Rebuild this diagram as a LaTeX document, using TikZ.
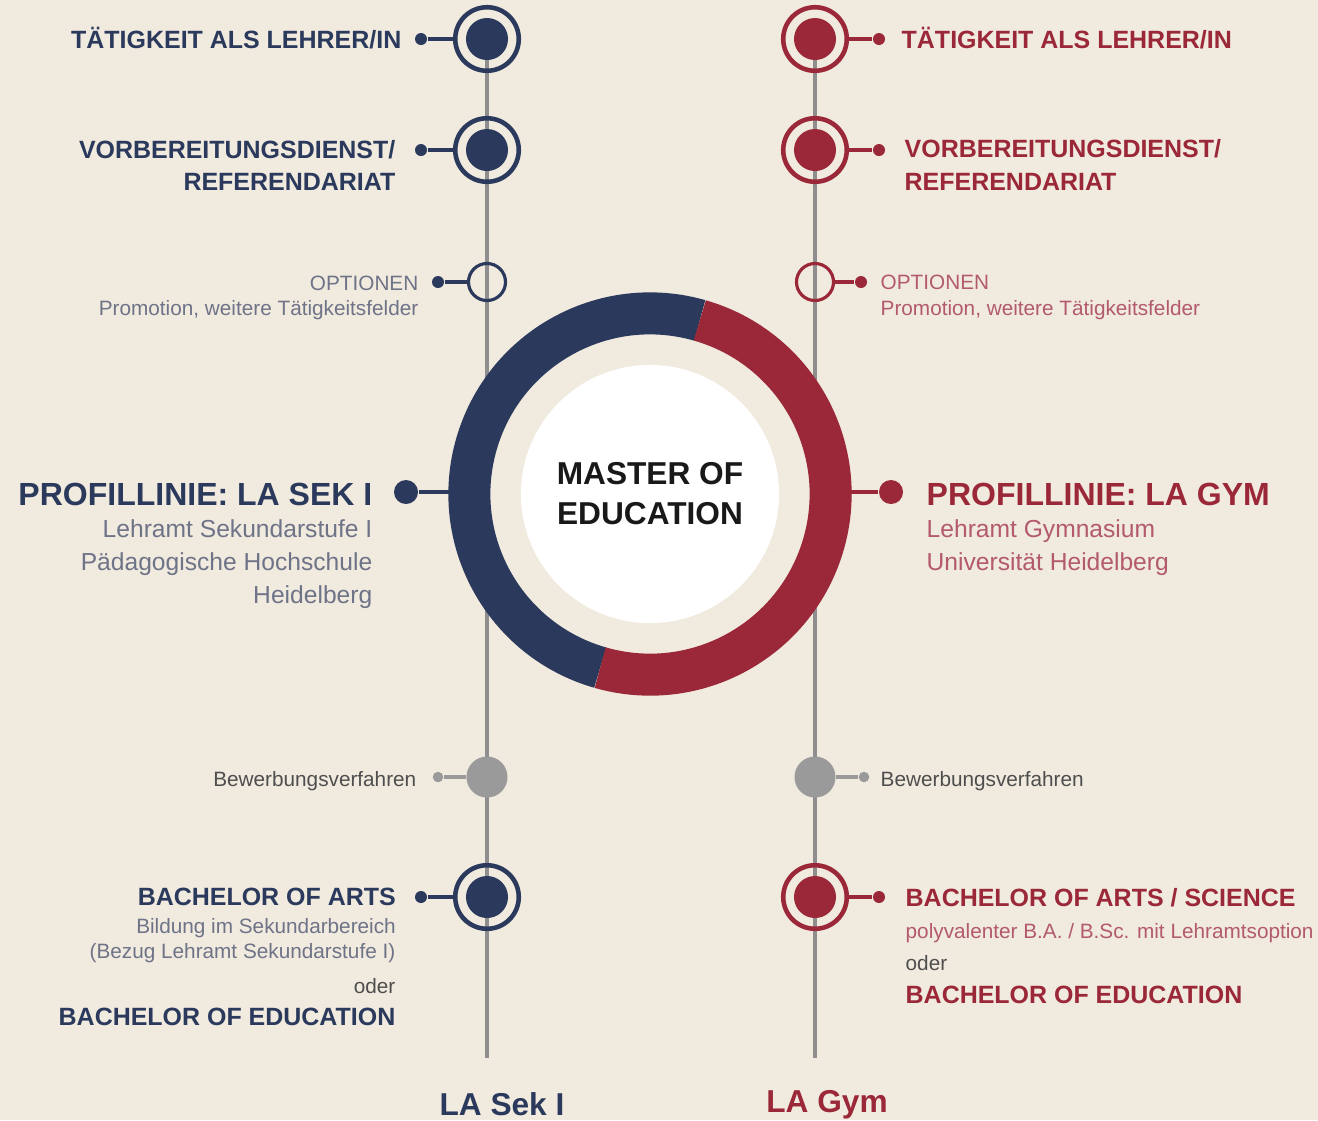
\documentclass[tikz,border=0pt]{standalone}
\usepackage{fontspec}
\setmainfont{Liberation Sans}
\definecolor{paper}{HTML}{F0EADF}
\definecolor{navy}{HTML}{2B3A5C}
\definecolor{crimson}{HTML}{9B2838}
\definecolor{navysoft}{HTML}{6E7387}
\definecolor{crimsonsoft}{HTML}{B35A6B}
\definecolor{linegray}{HTML}{8E8E8E}
\definecolor{dotgray}{HTML}{9A9A9A}
\definecolor{textgray}{HTML}{4E4E4E}
\tikzstyle{track} = [draw=linegray, line width=1.1pt]
\tikzstyle{station} = [circle, line width=1.3pt, minimum size=0.635cm, inner sep=0pt]
\tikzstyle{stationL} = [station, draw=navy, path picture={\fill[navy] (path picture bounding box.center) circle (0.21cm);}]
\tikzstyle{stationR} = [station, draw=crimson, path picture={\fill[crimson] (path picture bounding box.center) circle (0.21cm);}]
\tikzstyle{optring} = [circle, line width=0.9pt, minimum size=0.37cm, inner sep=0pt]
\tikzstyle{gate} = [circle, fill=dotgray, minimum size=0.41cm, inner sep=0pt]
\tikzstyle{knob} = [circle, minimum size=0.12cm, inner sep=0pt]
\tikzstyle{bigknob} = [circle, minimum size=0.24cm, inner sep=0pt]
\tikzstyle{stem} = [line width=0.9pt]
\tikzstyle{head} = [inner sep=0pt, font=\fontsize{7.1}{8}\selectfont\bfseries]
\tikzstyle{prof} = [inner sep=0pt, font=\fontsize{9.1}{10}\selectfont\bfseries]
\tikzstyle{sub} = [inner sep=0pt, font=\fontsize{7}{8}\selectfont]
\tikzstyle{note} = [inner sep=0pt, font=\fontsize{5.9}{7}\selectfont]

\begin{document}
\begin{tikzpicture}[x=0.01cm, y=-0.01cm]

\useasboundingbox (0,0) rectangle (1318,1120);
\fill[paper] (0,0) rectangle (1318,1120);

% tracks
\coordinate (ltop) at (487,39);
\coordinate (lend) at (487,1058);
\coordinate (rtop) at (815,39);
\coordinate (rend) at (815,1058);
\draw[track] (ltop) -- (lend);
\draw[track] (rtop) -- (rend);

% master ring
\coordinate (mid) at (650,494);
\coordinate (ringL) at (449,492);
\coordinate (ringR) at (851,492);
\draw[navy, line width=0.42cm] ([shift={(74:1.805cm)}]mid) arc[start angle=74, end angle=254, radius=1.805cm];
\draw[crimson, line width=0.42cm] ([shift={(-106:1.805cm)}]mid) arc[start angle=-106, end angle=74, radius=1.805cm];
\node at (mid) (master) [circle, fill=white, minimum size=2.58cm, inner sep=0pt, align=center, font=\fontsize{9}{11.4}\selectfont\bfseries, text=black!90] {MASTER OF\\EDUCATION};

% left line: LA Sek I
\node at (487,39) (l1) [stationL] {};
\node at (421,39) (l1k) [knob, fill=navy] {};
\draw[stem, navy] (l1k) -- (l1);
\node at (402,48) (l1t) [head, text=navy, anchor=base east] {TÄTIGKEIT ALS LEHRER/IN};

\node at (487,150) (l2) [stationL] {};
\node at (421,150) (l2k) [knob, fill=navy] {};
\draw[stem, navy] (l2k) -- (l2);
\node at (396,158) (l2t) [head, text=navy, anchor=base east] {VORBEREITUNGSDIENST/};
\node at (396,190) (l2u) [head, text=navy, anchor=base east] {REFERENDARIAT};

\node at (487,282) (l3) [optring, draw=navy] {};
\node at (438,282) (l3k) [knob, fill=navy] {};
\draw[stem, navy] (l3k) -- (l3);
\node at (419,290.5) (l3t) [note, text=navysoft, anchor=base east] {OPTIONEN};
\node at (419,315) (l3u) [note, text=navysoft, anchor=base east] {Promotion, weitere Tätigkeitsfelder};

\node at (406,492) (lpk) [bigknob, fill=navy] {};
\draw[navy, line width=1.1pt] (lpk) -- (ringL);
\node at (373,505) (lpt) [prof, text=navy, anchor=base east] {PROFILLINIE: LA SEK I};
\node at (373,537) (lpu) [sub, text=navysoft, anchor=base east] {Lehramt Sekundarstufe I};
\node at (373,570) (lpv) [sub, text=navysoft, anchor=base east] {Pädagogische Hochschule};
\node at (373,603) (lpw) [sub, text=navysoft, anchor=base east] {Heidelberg};

\node at (487,777) (l4) [gate] {};
\node at (438,777) (l4k) [knob, fill=dotgray, minimum size=0.105cm] {};
\draw[stem, dotgray] (l4k) -- (l4);
\node at (417,786.5) (l4t) [note, text=textgray, anchor=base east] {Bewerbungsverfahren};

\node at (487,897) (l5) [stationL] {};
\node at (421,897) (l5k) [knob, fill=navy] {};
\draw[stem, navy] (l5k) -- (l5);
\node at (396.5,905) (l5t) [head, text=navy, anchor=base east] {BACHELOR OF ARTS};
\node at (396.5,933) (l5u) [note, text=navysoft, anchor=base east] {Bildung im Sekundarbereich};
\node at (396,958) (l5v) [note, text=navysoft, anchor=base east] {(Bezug Lehramt Sekundarstufe I)};
\node at (396,993) (l5w) [note, text=textgray, anchor=base east] {oder};
\node at (396,1025) (l5x) [head, text=navy, anchor=base east] {BACHELOR OF EDUCATION};

\node at (502,1115) (lname) [inner sep=0pt, anchor=base, text=navy, font=\fontsize{9}{10}\selectfont\bfseries] {LA Sek I};

% right line: LA Gym
\node at (815,39) (r1) [stationR] {};
\node at (879,39) (r1k) [knob, fill=crimson] {};
\draw[stem, crimson] (r1) -- (r1k);
\node at (901,48) (r1t) [head, text=crimson, anchor=base west] {TÄTIGKEIT ALS LEHRER/IN};

\node at (815,150) (r2) [stationR] {};
\node at (879,150) (r2k) [knob, fill=crimson] {};
\draw[stem, crimson] (r2) -- (r2k);
\node at (904,157) (r2t) [head, text=crimson, anchor=base west] {VORBEREITUNGSDIENST/};
\node at (904,190) (r2u) [head, text=crimson, anchor=base west] {REFERENDARIAT};

\node at (815,282) (r3) [optring, draw=crimson] {};
\node at (861,282) (r3k) [knob, fill=crimson] {};
\draw[stem, crimson] (r3) -- (r3k);
\node at (880,289.5) (r3t) [note, text=crimsonsoft, anchor=base west] {OPTIONEN};
\node at (880,315) (r3u) [note, text=crimsonsoft, anchor=base west] {Promotion, weitere Tätigkeitsfelder};

\node at (891,492) (rpk) [bigknob, fill=crimson] {};
\draw[crimson, line width=1.1pt] (ringR) -- (rpk);
\node at (926,505) (rpt) [prof, text=crimson, anchor=base west] {PROFILLINIE: LA GYM};
\node at (926,537) (rpu) [sub, text=crimsonsoft, anchor=base west] {Lehramt Gymnasium};
\node at (926,570) (rpv) [sub, text=crimsonsoft, anchor=base west] {Universität Heidelberg};

\node at (815,777) (r4) [gate] {};
\node at (864,777) (r4k) [knob, fill=dotgray, minimum size=0.105cm] {};
\draw[stem, dotgray] (r4) -- (r4k);
\node at (880,786.5) (r4t) [note, text=textgray, anchor=base west] {Bewerbungsverfahren};

\node at (815,897) (r5) [stationR] {};
\node at (879,897) (r5k) [knob, fill=crimson] {};
\draw[stem, crimson] (r5) -- (r5k);
\node at (905,906.5) (r5t) [head, text=crimson, anchor=base west] {BACHELOR OF ARTS / SCIENCE};
\node at (905,938) (r5u) [note, text=crimsonsoft, anchor=base west] {polyvalenter B.A. / B.Sc. mit Lehramtsoption};
\node at (905,970) (r5v) [note, text=textgray, anchor=base west] {oder};
\node at (905,1003) (r5w) [head, text=crimson, anchor=base west] {BACHELOR OF EDUCATION};

\node at (827,1112) (rname) [inner sep=0pt, anchor=base, text=crimson, font=\fontsize{9}{10}\selectfont\bfseries] {LA Gym};

\end{tikzpicture}
\end{document}
